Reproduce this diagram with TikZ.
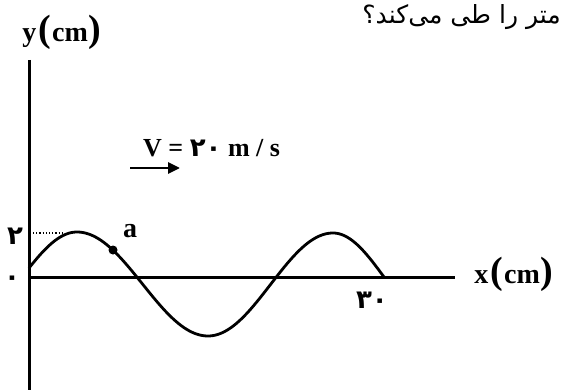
\documentclass[tikz,border=0pt]{standalone}
\usepackage{fontspec}
\setmainfont{Liberation Serif}
\newfontfamily\arabicfont[Script=Arabic]{DejaVu Sans}
\TeXXeTstate=1
\usetikzlibrary{arrows.meta}
\tikzset{
  axisline/.style={line width=3pt, black},
  waveline/.style={line width=2.8pt, black, line join=round},
  lbl/.style={font=\bfseries\fontsize{28}{30}\selectfont, inner sep=0pt},
  numlbl/.style={font=\arabicfont\bfseries\fontsize{26}{28}\selectfont, inner sep=0pt},
}
\begin{document}
\begin{tikzpicture}[x=1pt,y=-1pt]
\useasboundingbox (0,0) rectangle (564,390);
% axes
\coordinate (O) at (29,277);
\coordinate (ytop) at (29,60);
\coordinate (ybot) at (29,390);
\coordinate (xend) at (455,277);
\draw[axisline] (ytop) -- (ybot);
\draw[axisline] (O) -- (xend);
% wave
\draw[waveline]
  plot[domain=29:77, samples=25, variable=\u] ({\u}, {277-45*sin(90*(\u-22)/55)})
  -- plot[domain=0:180, samples=50, variable=\t] ({77+131*(\t/180)}, {232+52*(1-cos(\t))})
  -- plot[domain=0:180, samples=50, variable=\t] ({208+125*(\t/180)}, {336-51.5*(1-cos(\t))})
  -- plot[domain=0:90, samples=25, variable=\t] ({333+51*(\t/90)}, {233+44*(1-cos(\t))});
% peak marker
\coordinate (peak) at (62,233);
\coordinate (yamp) at (33,233);
\draw[line width=1.2pt, dotted] (yamp) -- (peak);
% point a
\node[circle, fill=black, inner sep=0pt, minimum size=9pt] (pa) at (113,250) {};
\node[lbl] (alabel) at (130,231) {a};
% labels
\node[lbl] (ylab) at (62,32) {y\kern2pt{\fontsize{38}{38}\selectfont(}\kern1pt cm\kern1pt{\fontsize{38}{38}\selectfont)}};
\node[lbl] (xlab) at (514,274) {x\kern2pt{\fontsize{38}{38}\selectfont(}\kern1pt cm\kern1pt{\fontsize{38}{38}\selectfont)}};
\node[numlbl] (two) at (15,236) {۲};
\node[numlbl] (zero) at (12,281) {۰};
\node[numlbl] (thirty) at (372,300) {۳۰};
% velocity
\node[inner sep=0pt, anchor=west] (vel) at (143,148) {\bfseries\fontsize{26}{28}\selectfont V = {\arabicfont ۲۰} m / s};
\coordinate (arrs) at (130,168);
\coordinate (arre) at (180,168);
\draw[line width=2.8pt, -{Triangle[length=12pt,width=11pt]}] (arrs) -- (arre);
% question text
\node[inner sep=0pt, anchor=east] (q) at (561,17) {\arabicfont\fontsize{25}{27}\selectfont\beginR متر را طی می‌کند؟\endR};
\end{tikzpicture}
\end{document}
